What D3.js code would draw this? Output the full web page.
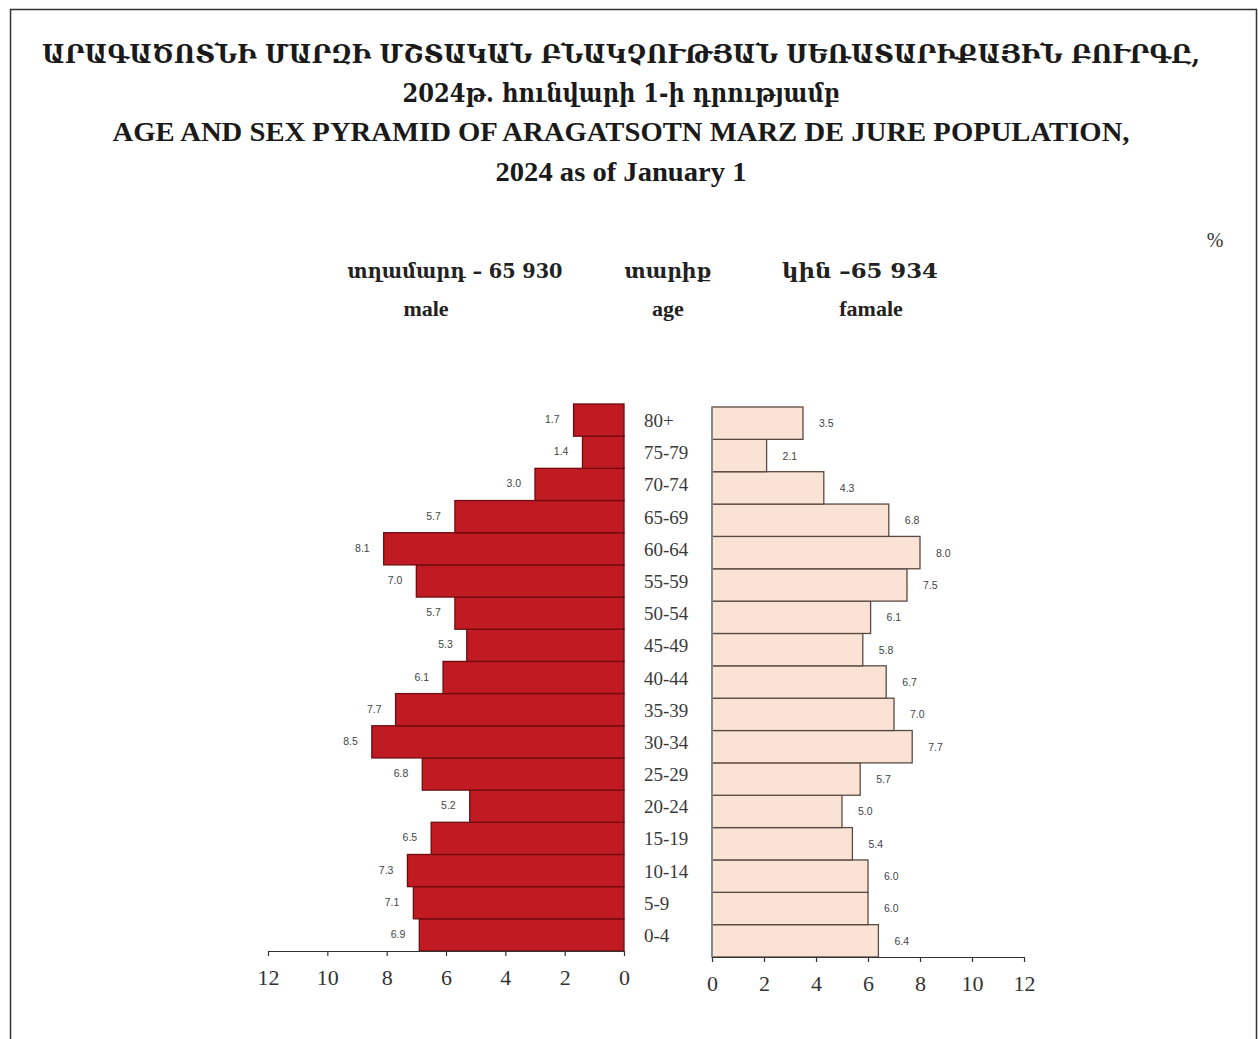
<!DOCTYPE html>
<html><head><meta charset="utf-8">
<script src="https://cdn.jsdelivr.net/npm/d3@7"></script>
<style>
html,body{margin:0;padding:0;background:#fff;}
svg{display:block;}
</style></head>
<body>
<svg id="chart" width="1258" height="1039"></svg>
<script>
const ages = ["0-4","5-9","10-14","15-19","20-24","25-29","30-34","35-39","40-44","45-49","50-54","55-59","60-64","65-69","70-74","75-79","80+"];
const maleValues = [6.9,7.1,7.3,6.5,5.2,6.8,8.5,7.7,6.1,5.3,5.7,7.0,8.1,5.7,3.0,1.4,1.7];
const femaleValues = [6.4,6.0,6.0,5.4,5.0,5.7,7.7,7.0,6.7,5.8,6.1,7.5,8.0,6.8,4.3,2.1,3.5];
const axisTicks = [0,2,4,6,8,10,12];
const titleLines = [
  "ԱՐԱԳԱԾՈՏՆԻ ՄԱՐԶԻ ՄՇՏԱԿԱՆ ԲՆԱԿՉՈՒԹՅԱՆ ՍԵՌԱՏԱՐԻՔԱՅԻՆ ԲՈՒՐԳԸ,",
  "2024թ. հունվարի 1-ի դրությամբ",
  "AGE AND SEX PYRAMID OF ARAGATSOTN MARZ DE JURE POPULATION,",
  "2024 as of January 1"
];
const headerTop = ["տղամարդ – 65 930", "տարիք", "կին –65 934"];
const headerBottom = ["male", "age", "famale"];
const unitLabel = "%";

const svg = d3.select("#chart");
const serif = "'Liberation Serif','DejaVu Serif',serif";
const armSerif = "'DejaVu Serif Condensed','DejaVu Serif','Noto Sans',serif";

// frame
svg.append("path").attr("d","M10.5,1039 L10.5,9.5 L1256.5,9.5 L1256.5,1039")
  .attr("fill","none").attr("stroke","#333").attr("stroke-width",1.5);

// titles
const titleY = [63, 102, 141, 181];
const titleW = [1158, 437, 1017, 251];
titleLines.forEach((t,i)=>{
  svg.append("text").attr("x",621).attr("y",titleY[i])
    .attr("text-anchor","middle")
    .attr("font-family", i<2 ? armSerif : serif)
    .attr("font-size", i<2 ? 26 : 27).attr("font-weight", "bold")
    .attr("fill","#1a1a1a")
    .attr("textLength", titleW[i]).attr("lengthAdjust","spacingAndGlyphs")
    .text(t);
});

// headers
const hx = [455, 668, 860];
const hx2 = [426, 668, 871];
const hw = [215, 87, 156];
headerTop.forEach((t,i)=>{
  svg.append("text").attr("x",hx[i]).attr("y",278).attr("text-anchor","middle")
    .attr("font-family",armSerif).attr("font-size",21).attr("font-weight","bold").attr("fill","#222")
    .attr("textLength",hw[i]).attr("lengthAdjust","spacingAndGlyphs").text(t);
});
headerBottom.forEach((t,i)=>{
  svg.append("text").attr("x",hx2[i]).attr("y",316).attr("text-anchor","middle")
    .attr("font-family",serif).attr("font-size",22).attr("font-weight","bold").attr("fill","#222").text(t);
});
svg.append("text").attr("x",1215).attr("y",247).attr("text-anchor","middle")
  .attr("font-family",serif).attr("font-size",20).attr("fill","#333").text(unitLabel);

// scales
const xMale = d3.scaleLinear().domain([0,12]).range([624,268]);
const xFemale = d3.scaleLinear().domain([0,12]).range([712,1024]);
const yMale = d3.scaleBand().domain(ages).range([951,404]).padding(0);
const yFemale = d3.scaleBand().domain(ages).range([957,407]).padding(0);

// male bars
svg.append("g").selectAll("rect").data(ages).join("rect")
  .attr("x",(d,i)=>xMale(maleValues[i]))
  .attr("y",d=>yMale(d))
  .attr("width",(d,i)=>xMale(0)-xMale(maleValues[i]))
  .attr("height",yMale.bandwidth())
  .attr("fill","#c01a23").attr("stroke","#6e0c10").attr("stroke-width",1.3);

// female bars
svg.append("g").selectAll("rect").data(ages).join("rect")
  .attr("x",xFemale(0))
  .attr("y",d=>yFemale(d))
  .attr("width",(d,i)=>xFemale(femaleValues[i])-xFemale(0))
  .attr("height",yFemale.bandwidth())
  .attr("fill","#fae3d5").attr("stroke","#5a4a44").attr("stroke-width",1.3);

// female vertical baseline
svg.append("line").attr("x1",xFemale(0)).attr("x2",xFemale(0))
  .attr("y1",407).attr("y2",957).attr("stroke","#888").attr("stroke-width",2);

// value labels
svg.append("g").selectAll("text").data(ages).join("text")
  .attr("x",(d,i)=>xMale(maleValues[i])-14)
  .attr("y",d=>yMale(d)+yMale.bandwidth()/2+3)
  .attr("text-anchor","end")
  .attr("font-family","'Liberation Sans',Arial,sans-serif").attr("font-size",10.5).attr("fill","#444")
  .text((d,i)=>maleValues[i].toFixed(1));
svg.append("g").selectAll("text").data(ages).join("text")
  .attr("x",(d,i)=>xFemale(femaleValues[i])+16)
  .attr("y",d=>yFemale(d)+yFemale.bandwidth()/2+4)
  .attr("text-anchor","start")
  .attr("font-family","'Liberation Sans',Arial,sans-serif").attr("font-size",10.5).attr("fill","#444")
  .text((d,i)=>femaleValues[i].toFixed(1));

// age labels
svg.append("g").selectAll("text").data(ages).join("text")
  .attr("x",644)
  .attr("y",d=>yMale(d)+yMale.bandwidth()/2+7)
  .attr("font-family",serif).attr("font-size",19).attr("fill","#3a3a3a")
  .text(d=>d);

// axes
const axL = d3.axisBottom(xMale).tickValues(axisTicks).tickSize(5).tickPadding(13).tickSizeOuter(0);
const gL = svg.append("g").attr("transform","translate(0,951)").call(axL);
const axR = d3.axisBottom(xFemale).tickValues(axisTicks).tickSize(5).tickPadding(13).tickSizeOuter(0);
const gR = svg.append("g").attr("transform","translate(0,957)").call(axR);
[gL,gR].forEach(g=>{
  g.select(".domain").attr("stroke","#333").attr("stroke-width",1.2);
  g.selectAll(".tick line").attr("stroke","#333").attr("stroke-width",1.2);
  g.selectAll(".tick text").attr("font-family",serif).attr("font-size",22).attr("fill","#333");
});
</script>
</body></html>
